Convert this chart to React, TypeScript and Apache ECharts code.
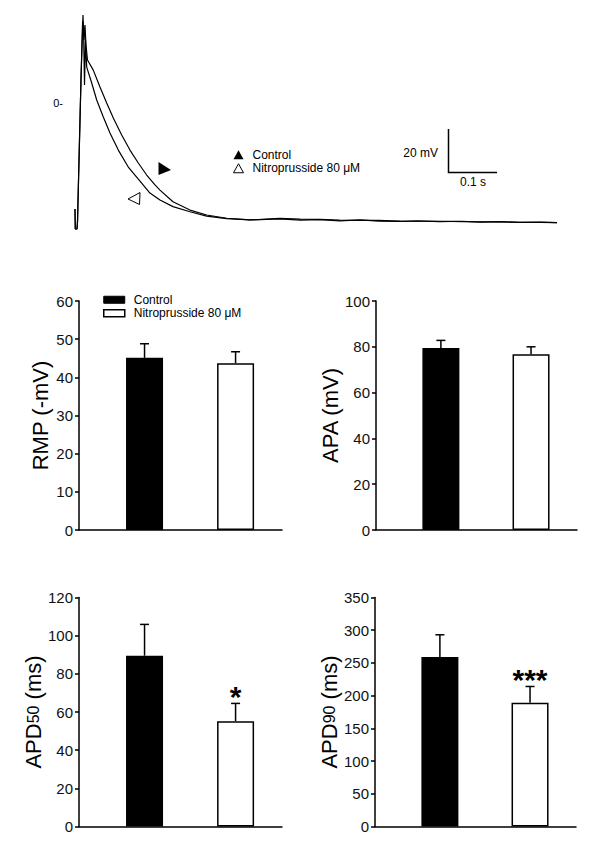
import React, { useEffect, useRef } from 'react';
import * as echarts from 'echarts';

const FONT = 'Arial, "Liberation Sans", Helvetica, sans-serif';

// ---- Action potential traces (time in ms, membrane potential in mV) ----
const controlTimeMs = [0, 0.6, 4.1, 5.1, 8.2, 12.2, 16.3, 18.4, 20.4, 22.4, 25.5, 37.3, 51.0, 64.7, 78.2, 95.3, 112.2, 129.2, 146.3, 163.3, 173.5, 200, 234.7, 268.8, 309.6, 357, 418, 460, 500, 540, 582, 620, 663, 700, 745, 790, 827, 870, 908, 950, 984];
const controlMv = [-49.3, -58.6, -58.6, -55.3, -26.5, 10.7, 40.9, 29.3, 36.3, 27.0, 20.0, 15.3, 7.4, 0, -7.0, -14.9, -21.9, -27.9, -33.5, -38.1, -40.5, -45.9, -49.8, -52.1, -53.6, -54.4, -53.7, -54.0, -54.1, -54.5, -54.6, -54.6, -54.9, -55.0, -55.0, -55.2, -55.3, -55.3, -55.5, -55.5, -55.6];
const nitroTimeMs = [0, 0.6, 4.1, 5.1, 8.2, 12.2, 15.5, 17.3, 19.4, 21.4, 23.9, 34.1, 44.3, 57.8, 71.4, 88.4, 108.8, 132.7, 153, 173.5, 200, 234.7, 268.8, 309.6, 357, 418, 460, 500, 540, 582, 620, 663, 700, 745, 790, 827, 870, 908, 950, 984];
const nitroMv = [-49.3, -58.6, -58.6, -55.3, -26.5, 10.7, 38.0, 36.3, 8.4, 29.3, 16.7, 9.3, 1.4, -6.5, -14.0, -21.9, -29.8, -36.3, -41.9, -45.1, -48.2, -50.6, -52.6, -53.8, -54.4, -53.9, -54.5, -54.3, -54.8, -54.4, -54.9, -55.1, -54.8, -55.2, -55.0, -55.4, -55.2, -55.5, -55.4, -55.6];

// ---- Summary bar data (mean ± SEM) ----
const seriesNames = ['Control', 'Nitroprusside 80 μM'];
const barPositions = [1, 2];
const rmpMean = [45.1, 43.7];
const rmpSem = [3.7, 3.0];
const apaMean = [79.5, 76.8];
const apaSem = [3.3, 3.2];
const apd50Mean = [89.5, 55.2];
const apd50Sem = [16.4, 9.3];
const apd90Mean = [259, 189];
const apd90Sem = [34, 25];
const rmpSig = ['', ''];
const apaSig = ['', ''];
const apd50Sig = ['', '*'];
const apd90Sig = ['', '***'];
const yMaxes = [60, 100, 120, 350];
const yIntervals = [10, 20, 20, 50];

const panels = [
  { name: 'RMP (-mV)', mean: rmpMean, sem: rmpSem, sig: rmpSig, grid: { left: 79, top: 301, width: 203, height: 229 } },
  { name: 'APA (mV)', mean: apaMean, sem: apaSem, sig: apaSig, grid: { left: 376, top: 301, width: 201, height: 229 } },
  { name: 'APD{s|50} (ms)', mean: apd50Mean, sem: apd50Sem, sig: apd50Sig, grid: { left: 79, top: 597.5, width: 203, height: 229 } },
  { name: 'APD{s|90} (ms)', mean: apd90Mean, sem: apd90Sem, sig: apd90Sig, grid: { left: 375, top: 597.5, width: 201, height: 229 } },
];

export default function App() {
  const ref = useRef<HTMLDivElement>(null);

  useEffect(() => {
    if (!ref.current) return;
    const chart = echarts.init(ref.current, undefined, { renderer: 'svg' });

    const grids: any[] = [{ left: 75, top: 6.25, width: 482, height: 225.75 }];
    const xAxes: any[] = [{ gridIndex: 0, type: 'value', min: 0, max: 984, show: false }];
    const yAxes: any[] = [{
      gridIndex: 0, type: 'value', min: -60, max: 45, interval: 15,
      axisLine: { show: false }, axisTick: { show: false }, splitLine: { show: false },
      axisLabel: {
        formatter: (v: number) => (v === 0 ? '0-' : ''),
        margin: 12, fontSize: 11, fontFamily: FONT, color: '#000',
      },
    }];
    const series: any[] = [
      {
        name: seriesNames[0], type: 'line', xAxisIndex: 0, yAxisIndex: 0, symbol: 'none',
        data: controlTimeMs.map((t, i) => [t, controlMv[i]]),
        lineStyle: { color: '#000', width: 1.2 }, itemStyle: { color: '#000' },
      },
      {
        name: seriesNames[1], type: 'line', xAxisIndex: 0, yAxisIndex: 0, symbol: 'none',
        data: nitroTimeMs.map((t, i) => [t, nitroMv[i]]),
        lineStyle: { color: '#000', width: 1.2 }, itemStyle: { color: '#000' },
      },
    ];

    panels.forEach((p, k) => {
      const gi = k + 1;
      grids.push(p.grid);
      xAxes.push({
        gridIndex: gi, type: 'value', min: 0.28, max: 2.51,
        axisLine: { show: true, lineStyle: { color: '#000', width: 1.5 } },
        axisTick: { show: false }, axisLabel: { show: false }, splitLine: { show: false },
      });
      yAxes.push({
        gridIndex: gi, type: 'value', min: 0, max: yMaxes[k], interval: yIntervals[k],
        axisLine: { show: true, lineStyle: { color: '#000', width: 1.5 } },
        axisTick: { show: true, length: 4, lineStyle: { color: '#000', width: 1.5 } },
        splitLine: { show: false },
        axisLabel: { fontSize: 15, fontFamily: FONT, color: '#111', margin: 6 },
        name: p.name, nameLocation: 'middle', nameRotate: 90, nameGap: 28,
        nameTextStyle: {
          fontSize: 22, fontFamily: FONT, color: '#000',
          rich: { s: { fontSize: 16, fontFamily: FONT, color: '#000' } },
        },
      });
      series.push({
        name: seriesNames[0], type: 'bar', xAxisIndex: gi, yAxisIndex: gi,
        barWidth: 37, barGap: '-100%',
        data: [[barPositions[0], p.mean[0]]],
        itemStyle: { color: '#000', borderColor: '#000', borderWidth: 1.5 },
      });
      series.push({
        name: seriesNames[1], type: 'bar', xAxisIndex: gi, yAxisIndex: gi,
        barWidth: 37, barGap: '-100%',
        data: [[barPositions[1], p.mean[1]]],
        itemStyle: { color: '#fff', borderColor: '#000', borderWidth: 1.5 },
      });
      series.push({
        name: 'sem' + k, type: 'custom', xAxisIndex: gi, yAxisIndex: gi, z: 5,
        encode: { x: 0, y: 1 },
        data: barPositions.map((x, i) => [x, p.mean[i], p.sem[i]]),
        renderItem: (params: any, api: any) => {
          const x = api.value(0);
          const m = api.value(1);
          const s = api.value(2);
          const base = api.coord([x, m]);
          const top = api.coord([x, m + s]);
          const children: any[] = [
            { type: 'line', shape: { x1: top[0], y1: base[1], x2: top[0], y2: top[1] }, style: { stroke: '#000', lineWidth: 1.5 } },
            { type: 'line', shape: { x1: top[0] - 4.5, y1: top[1], x2: top[0] + 4.5, y2: top[1] }, style: { stroke: '#000', lineWidth: 1.5 } },
          ];
          const sig = p.sig[params.dataIndex];
          if (sig) {
            children.push({
              type: 'text', x: top[0], y: top[1] - 7,
              style: { text: sig, fontSize: 30, fontWeight: 'bold', fontFamily: FONT, fill: '#000', align: 'center', verticalAlign: 'middle' },
            });
          }
          return { type: 'group', children };
        },
      });
    });

    const legendText = { fontSize: 12, fontFamily: FONT, color: '#000', lineHeight: 13.5, padding: [0, 0, 0, 4] };

    chart.setOption({
      animation: false,
      backgroundColor: '#fff',
      grid: grids,
      xAxis: xAxes,
      yAxis: yAxes,
      legend: [
        {
          orient: 'vertical', left: 233, top: 148, padding: 0, itemGap: 0,
          itemWidth: 10, itemHeight: 9, selectedMode: false, textStyle: legendText,
          data: [
            { name: seriesNames[0], icon: 'triangle', itemStyle: { color: '#000', borderWidth: 0 } },
            { name: seriesNames[1], icon: 'triangle', itemStyle: { color: '#fff', borderColor: '#000', borderWidth: 1 } },
          ],
        },
        {
          orient: 'vertical', left: 103, top: 293, padding: 0, itemGap: 0,
          itemWidth: 21, itemHeight: 7, selectedMode: false, textStyle: legendText,
          data: [
            { name: seriesNames[0], icon: 'rect', itemStyle: { color: '#000', borderColor: '#000', borderWidth: 1 } },
            { name: seriesNames[1], icon: 'rect', itemStyle: { color: '#fff', borderColor: '#000', borderWidth: 1.5 } },
          ],
        },
      ],
      graphic: [
        { type: 'polygon', shape: { points: [[158.5, 162], [171, 170], [158.5, 175]] }, style: { fill: '#000' } },
        { type: 'polygon', shape: { points: [[128, 199], [140, 192.5], [139.5, 204.5]] }, style: { fill: '#fff', stroke: '#000', lineWidth: 1 } },
        { type: 'polyline', shape: { points: [[448.5, 129], [448.5, 172.5], [497, 172.5]] }, style: { stroke: '#000', lineWidth: 1.5, fill: null } },
        { type: 'text', x: 438, y: 153, style: { text: '20 mV', fontSize: 12, fontFamily: FONT, fill: '#000', align: 'right', verticalAlign: 'middle' } },
        { type: 'text', x: 473, y: 182, style: { text: '0.1 s', fontSize: 12, fontFamily: FONT, fill: '#000', align: 'center', verticalAlign: 'middle' } },
      ],
      series,
    });

    return () => chart.dispose();
  }, []);

  return (
    <div
      ref={ref}
      style={{ position: 'absolute', left: 0, top: 0, width: 600, height: 851, background: '#fff' }}
    />
  );
}
